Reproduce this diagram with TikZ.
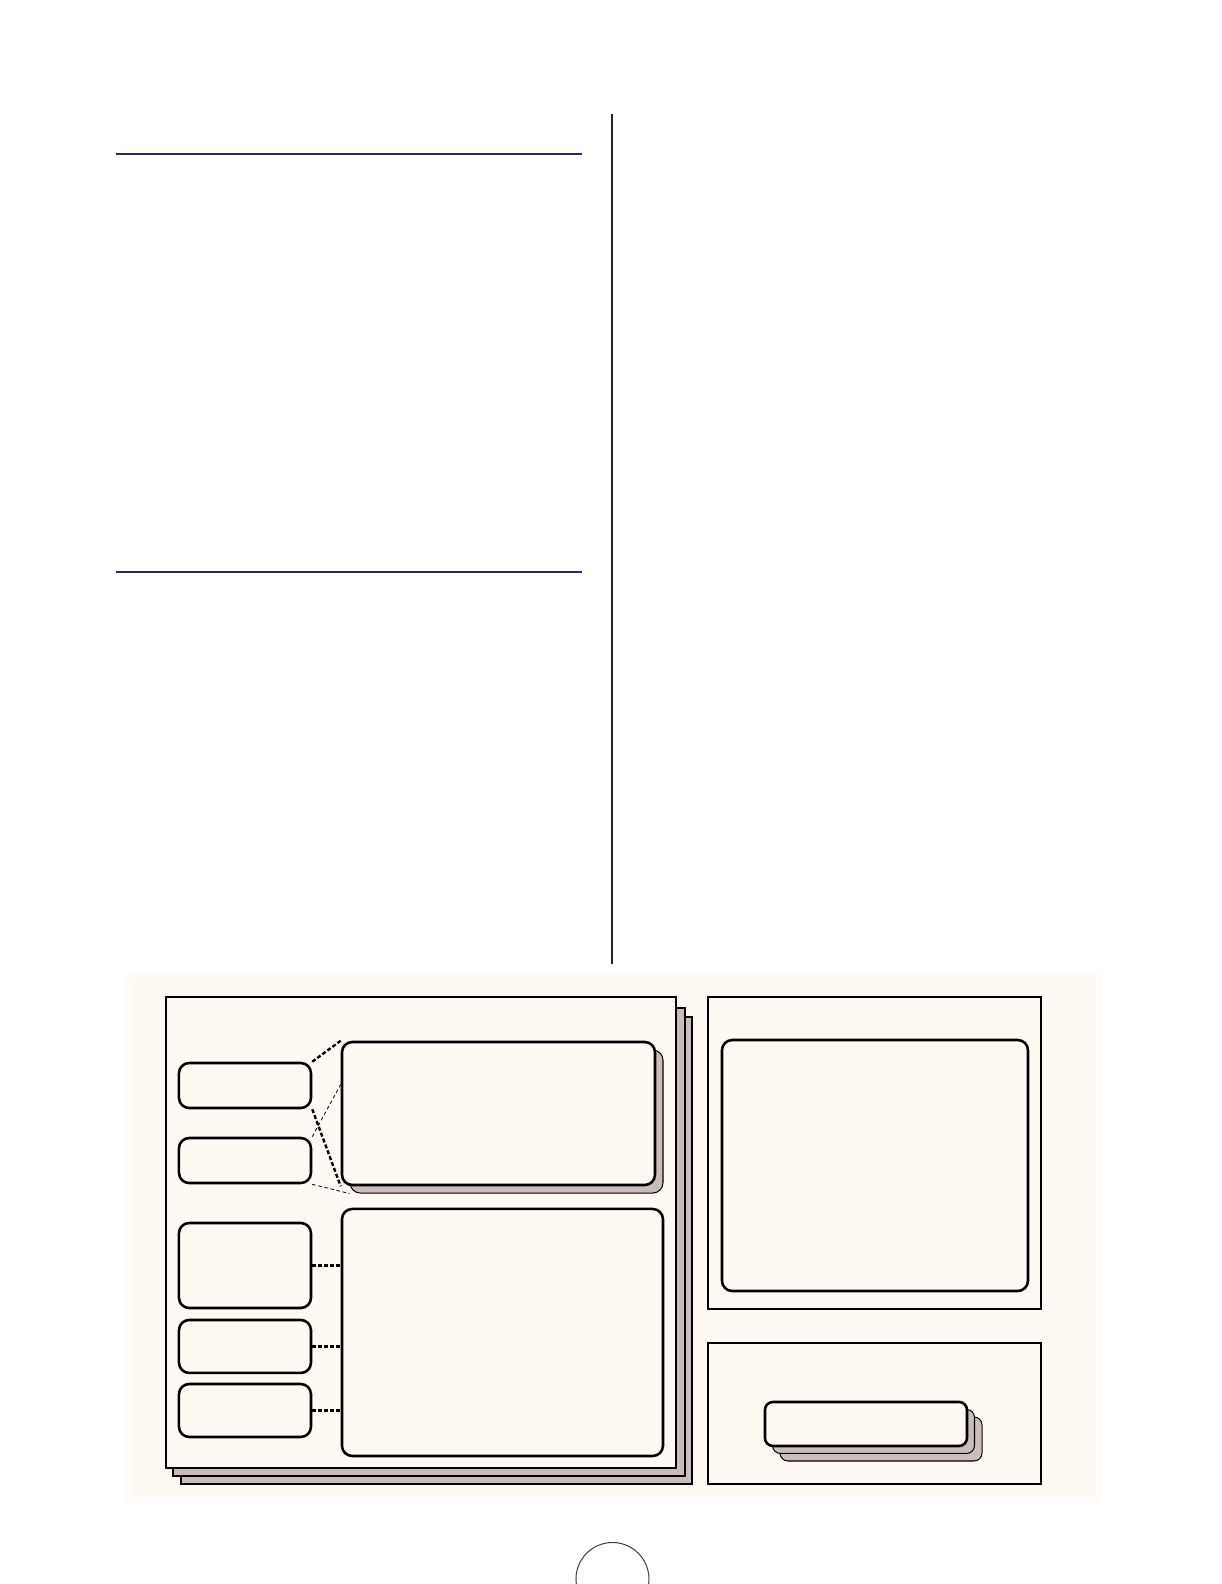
\documentclass[tikz,border=0pt]{standalone}
\usetikzlibrary{calc}

\definecolor{paper}{RGB}{254,249,243}
\definecolor{rulenavy}{RGB}{44,40,90}
\definecolor{shadowrose}{RGB}{204,189,189}

\tikzset{
  panel/.style={draw, line width=0.021cm, fill=paper},
  panelshadow/.style={draw, line width=0.021cm, fill=shadowrose},
  card/.style={draw, line width=0.045cm, fill=paper, rounded corners=0.18cm, inner sep=0pt},
  cardshadow/.style={draw, line width=0.018cm, fill=shadowrose, rounded corners=0.18cm, inner sep=0pt},
  crosslink/.style={line width=0.042cm, dash pattern=on 0.07cm off 0.04cm},
  dotlink/.style={line width=0.058cm, dash pattern=on 0.07cm off 0.035cm},
  thinlink/.style={line width=0.014cm, dash pattern=on 0.06cm off 0.05cm},
}

\begin{document}
\begin{tikzpicture}
                    \useasboundingbox (0,0) rectangle (21.474,27.836);

                    % Drawing upper rule
                    \draw [line width=0.025cm, color=rulenavy] (2.038,25.129) -- (10.227,25.129);%

                    % Drawing lower rule
                    \draw [line width=0.025cm, color=rulenavy] (2.038,17.784) -- (10.227,17.784);%

                    % Drawing column separator
                    \draw [line width=0.025cm, color=black!85] (10.755,25.832) -- (10.755,10.895);%

                    % Drawing paper background of the figure
                    \fill [paper!50] (2.200,1.430) rectangle (19.360,10.750);%
                    \fill [paper] (2.302,1.529) rectangle (19.260,10.649);%

                    % Drawing stacked left panel
                    \draw [panelshadow] (3.181,1.757) rectangle (12.161,9.964);%
                    \draw [panelshadow] (3.040,1.898) rectangle (12.038,10.122);%
                    \draw [panel] (2.917,2.038) rectangle (11.879,10.315);%

                    % Drawing right panels
                    \draw [panel] (12.442,4.833) rectangle (18.293,10.315);%
                    \draw [panel] (12.442,1.757) rectangle (18.293,4.235);%

                    % Marking left column cards
                    \node [card, minimum width=2.320cm, minimum height=0.791cm] (srcA) at (4.305,8.760) {};%
                    \node [card, minimum width=2.320cm, minimum height=0.791cm] (srcB) at (4.305,7.442) {};%
                    \node [card, minimum width=2.320cm, minimum height=1.494cm] (srcC) at (4.305,5.597) {};%
                    \node [card, minimum width=2.320cm, minimum height=0.931cm] (srcD) at (4.305,4.174) {};%
                    \node [card, minimum width=2.320cm, minimum height=0.931cm] (srcE) at (4.305,3.049) {};%

                    % Marking upper view with its shadow
                    \node [cardshadow, minimum width=5.500cm, minimum height=2.513cm] (viewAshadow) at (8.901,8.127) {};%
                    \node [card, minimum width=5.500cm, minimum height=2.513cm] (viewA) at (8.760,8.268) {};%

                    % Marking lower view
                    \node [card, minimum width=5.641cm, minimum height=4.341cm] (viewB) at (8.830,4.420) {};%

                    % Marking detail card in right panel
                    \node [card, minimum width=5.377cm, minimum height=4.411cm] (detail) at (15.376,7.354) {};%

                    % Marking stacked card in lower right panel
                    \node [cardshadow, rounded corners=0.14cm, minimum width=3.550cm, minimum height=0.773cm] (stackC) at (15.482,2.548) {};%
                    \node [cardshadow, rounded corners=0.14cm, minimum width=3.550cm, minimum height=0.773cm] (stackB) at (15.350,2.680) {};%
                    \node [card, rounded corners=0.14cm, minimum width=3.550cm, minimum height=0.773cm] (stackA) at (15.218,2.812) {};%

                    % Drawing links srcA -- viewA
                    \draw [crosslink] (srcA.north east) -- (viewA.north west);%
                    \draw [crosslink] (srcA.south east) -- (viewA.south west);%

                    % Drawing links srcB -- viewA shadow
                    \draw [thinlink] (srcB.north east) -- ($(viewA.north west)!0.3!(viewA.south west)$);%
                    \draw [thinlink] (srcB.south east) -- (viewAshadow.south west);%

                    % Drawing links srcC, srcD, srcE -- viewB
                    \draw [dotlink] (srcC.east) -- (srcC.east -| viewB.west);%
                    \draw [dotlink] (srcD.east) -- (srcD.east -| viewB.west);%
                    \draw [dotlink] (srcE.east) -- (srcE.east -| viewB.west);%

                    % Marking page number circle
                    \draw [line width=0.018cm, color=black!75] (10.763,0.088) circle (0.641);%
\end{tikzpicture}
\end{document}
